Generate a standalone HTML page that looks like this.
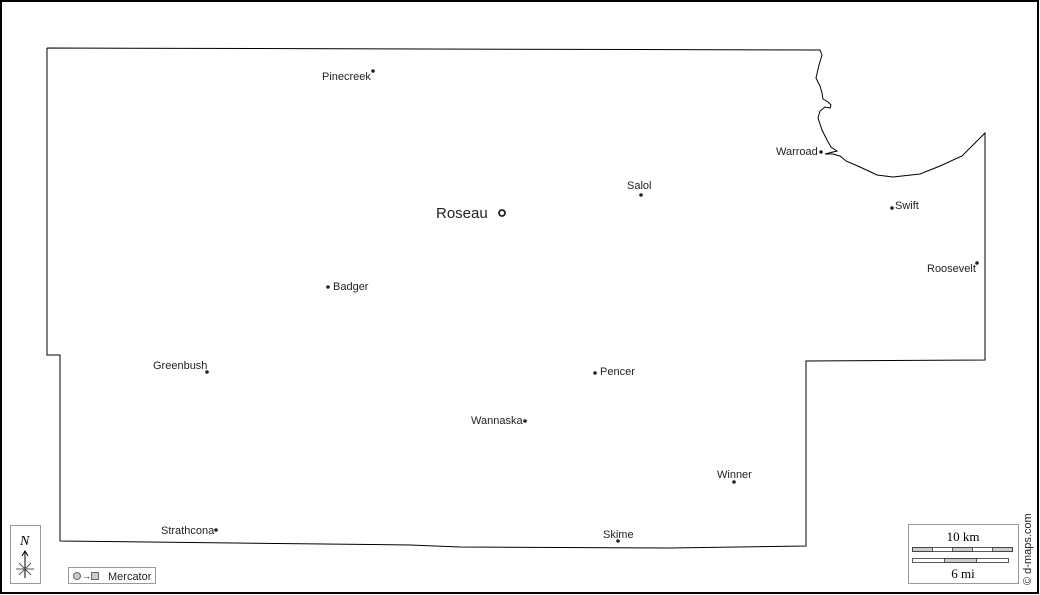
<!DOCTYPE html>
<html><head><style>
body{margin:0;background:#fff;}
svg{display:block;font-family:"Liberation Sans",sans-serif;}
</style></head><body>
<svg width="1040" height="595" viewBox="0 0 1040 595">
<rect x="1" y="1" width="1037" height="592" fill="#fff" stroke="#000" stroke-width="2"/>
<polyline fill="none" stroke="#000" stroke-width="1" points="47,48 820,50 822,55 819,65 816,78 820,86 822,93 823,99 828,102 831,105 830,108 825,107 820,111 818,118 822,130 827,140 831,147 837,151 825,154 833,154 840,156 846,161 860,167 877,175 893,177 920,174 940,166 962,156 985,133 985,360 806,361 806,546 670,548 460,547 410,545 60,541 60,355 47,355 47,48"/>
<g font-size="11" fill="#222">
<circle cx="373" cy="71" r="1.8"/><text x="322" y="80">Pinecreek</text>
<circle cx="821" cy="152" r="1.8"/><text x="776" y="155">Warroad</text>
<circle cx="641" cy="195" r="1.8"/><text x="627" y="189">Salol</text>
<circle cx="892" cy="208" r="1.8"/><text x="895" y="209">Swift</text>
<circle cx="977" cy="263" r="1.8"/><text x="927" y="272">Roosevelt</text>
<circle cx="328" cy="287" r="1.8"/><text x="333" y="290">Badger</text>
<circle cx="207" cy="372" r="1.8"/><text x="153" y="369">Greenbush</text>
<circle cx="595" cy="373" r="1.8"/><text x="600" y="375">Pencer</text>
<circle cx="525" cy="421" r="1.8"/><text x="471" y="424">Wannaska</text>
<circle cx="734" cy="482" r="1.8"/><text x="717" y="478">Winner</text>
<circle cx="216" cy="530" r="1.8"/><text x="161" y="534">Strathcona</text>
<circle cx="618" cy="541" r="1.8"/><text x="603" y="538">Skime</text>
</g>
<circle cx="502" cy="213" r="3" fill="none" stroke="#222" stroke-width="1.8"/>
<text x="436" y="218" font-size="15" fill="#222">Roseau</text>
<rect x="10.5" y="525.5" width="30" height="58" fill="#fff" stroke="#999"/>
<text x="20" y="545" font-family="Liberation Serif" font-style="italic" font-size="14">N</text>
<line x1="25" y1="552" x2="25" y2="578" stroke="#000"/>
<path d="M22,556 L25,551 L28,556" fill="none" stroke="#000"/>
<line x1="16" y1="569" x2="34" y2="569" stroke="#555"/>
<line x1="19" y1="563" x2="31" y2="575" stroke="#555"/>
<line x1="31" y1="563" x2="19" y2="575" stroke="#555"/>
<rect x="68.5" y="567.5" width="87" height="16" fill="#fff" stroke="#999"/>
<circle cx="77" cy="576" r="3.5" fill="#ccc" stroke="#666"/>
<text x="82" y="579" font-size="9">→</text>
<rect x="91.5" y="572.5" width="7" height="7" fill="#ccc" stroke="#666"/>
<text x="108" y="580" font-size="11" fill="#222">Mercator</text>
<rect x="908.5" y="524.5" width="110" height="59" fill="#fff" stroke="#999"/>
<text x="963" y="541" text-anchor="middle" font-family="Liberation Serif" font-size="13">10 km</text>
<g stroke="#333" stroke-width="0.8">
<rect x="912.5" y="547.5" width="100" height="4" fill="#fff"/>
<rect x="912.5" y="547.5" width="20" height="4" fill="#ccc"/>
<rect x="952.5" y="547.5" width="20" height="4" fill="#ccc"/>
<rect x="992.5" y="547.5" width="20" height="4" fill="#ccc"/>
<rect x="912.5" y="558.5" width="96" height="4" fill="#fff"/>
<rect x="944.5" y="558.5" width="32" height="4" fill="#ccc"/>
</g>
<text x="963" y="578" text-anchor="middle" font-family="Liberation Serif" font-size="13">6 mi</text>
<text transform="translate(1031,585) rotate(-90)" font-size="11" fill="#222">© d-maps.com</text>
</svg>
</body></html>
